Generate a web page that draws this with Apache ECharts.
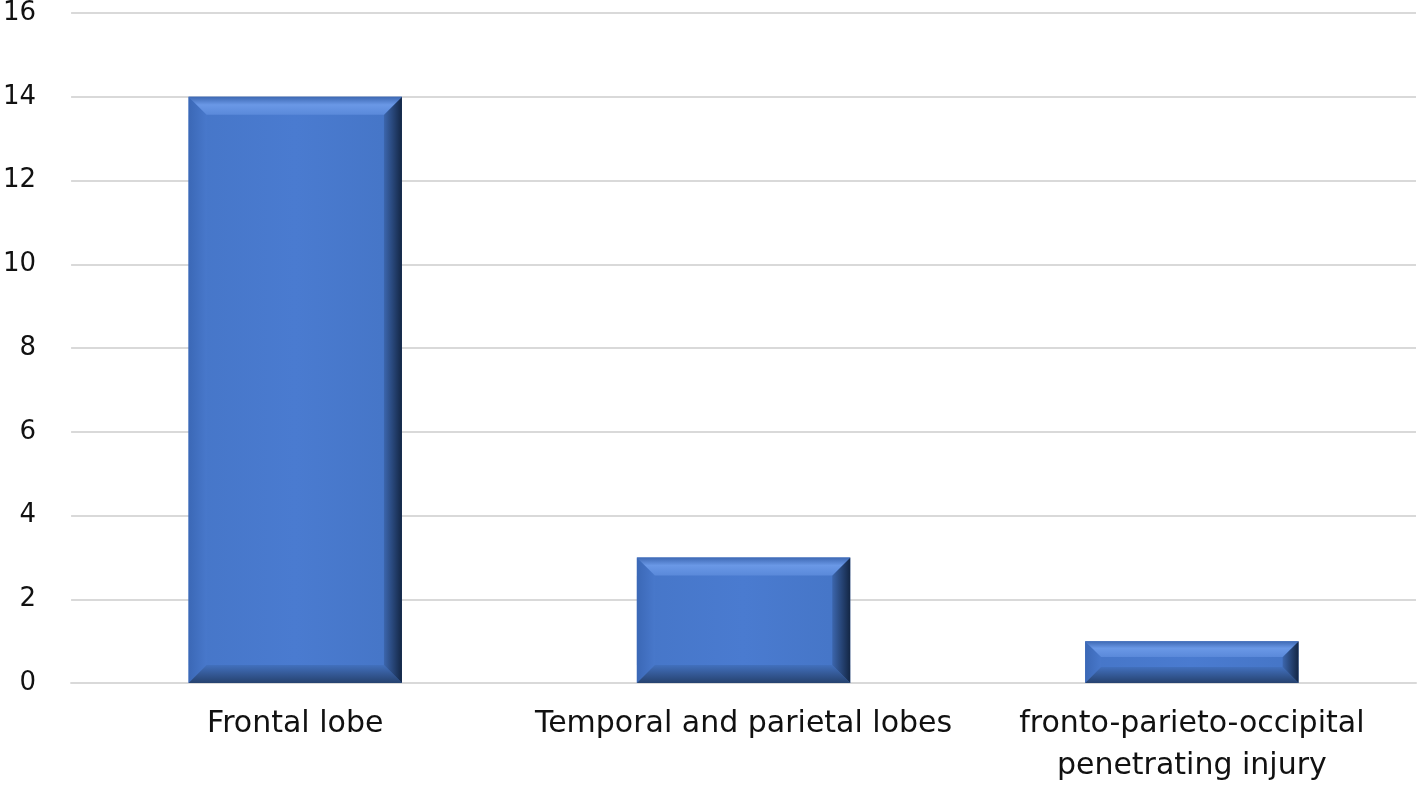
<!DOCTYPE html>
<html>
<head>
<meta charset="utf-8">
<style>html,body{margin:0;padding:0;background:#fff}#c{width:1418px;height:791px}</style>
<script src="https://cdn.jsdelivr.net/npm/echarts@6/dist/echarts.min.js"></script>
</head>
<body>
<div id="c"></div>
<script>
const categories = ['Frontal lobe', 'Temporal and parietal lobes', 'fronto-parieto-occipital\npenetrating injury'];
const values = [14, 3, 1];
const yTicks = { min: 0, max: 16, interval: 2 };

const G = echarts.graphic;
function renderBar(params, api) {
  const i = api.value(0), v = api.value(1);
  const topPt = api.coord([i, v]);
  const basePt = api.coord([i, 0]);
  const bw = api.size([1, 0])[0] * 0.476;
  const L = topPt[0] - bw / 2, R = topPt[0] + bw / 2, T = topPt[1], B = basePt[1];
  const b = Math.min(18, (B - T) * 0.38);
  return {
    type: 'group',
    children: [
      { type: 'rect', shape: { x: L, y: T, width: R - L, height: B - T },
        style: { fill: new G.LinearGradient(0, 0, 1, 0, [
          { offset: 0, color: '#4676c8' }, { offset: 0.5, color: '#4a7bd0' }, { offset: 1, color: '#4575c6' }]) } },
      { type: 'polygon', shape: { points: [[L, T], [L + b, T + b], [L + b, B - b], [L, B]] },
        style: { fill: new G.LinearGradient(0, 0, 1, 0, [
          { offset: 0, color: '#3b68b6' }, { offset: 1, color: '#4878cb' }]) } },
      { type: 'polygon', shape: { points: [[L, B], [R, B], [R - b, B - b], [L + b, B - b]] },
        style: { fill: new G.LinearGradient(0, 0, 0, 1, [
          { offset: 0, color: '#4270bd' }, { offset: 1, color: '#26426f' }]) } },
      { type: 'polygon', shape: { points: [[R, T], [R, B], [R - b, B - b], [R - b, T + b]] },
        style: { fill: new G.LinearGradient(0, 0, 1, 0, [
          { offset: 0, color: '#3c66ad' }, { offset: 1, color: '#132644' }]) } },
      { type: 'polygon', shape: { points: [[L, T], [R, T], [R - b, T + b], [L + b, T + b]] },
        style: { fill: new G.LinearGradient(0, 0, 0, 1, [
          { offset: 0, color: '#3d68b3' }, { offset: 0.45, color: '#6a98e6' }, { offset: 1, color: '#5a89da' }]) } }
    ]
  };
}

const chart = echarts.init(document.getElementById('c'), null, { renderer: 'canvas' });
chart.setOption({
  animation: false,
  grid: { left: 70, right: 2, top: 13, bottom: 108 },
  xAxis: {
    type: 'category',
    data: categories,
    axisTick: { show: false },
    axisLine: { lineStyle: { color: '#d9d9d9', width: 2 } },
    axisLabel: { color: '#111', fontFamily: 'DejaVu Sans', fontSize: 30, lineHeight: 42, margin: 20, interval: 0 }
  },
  yAxis: {
    type: 'value',
    min: yTicks.min, max: yTicks.max, interval: yTicks.interval,
    axisLine: { show: false },
    axisTick: { show: false },
    splitLine: { lineStyle: { color: '#d9d9d9', width: 2 } },
    axisLabel: { color: '#111', fontFamily: 'DejaVu Sans', fontSize: 26, margin: 35 }
  },
  series: [{
    type: 'custom',
    renderItem: renderBar,
    encode: { x: 0, y: 1 },
    data: values.map((v, i) => [i, v])
  }]
});
</script>
</body>
</html>
